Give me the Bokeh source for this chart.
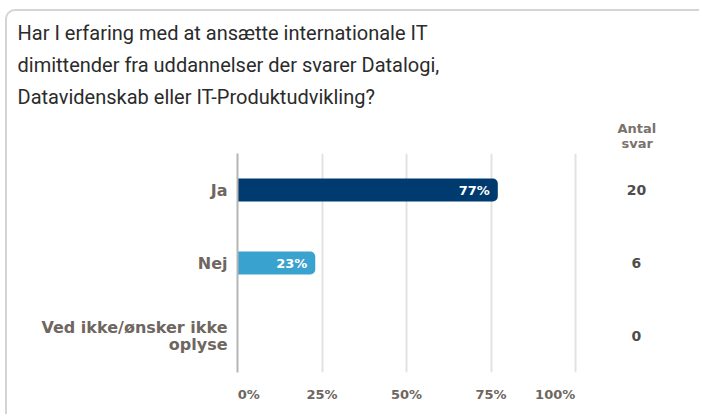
from bokeh.plotting import figure
from bokeh.models import Range1d, FactorRange, FixedTicker, ColumnDataSource, Title
from bokeh.embed import file_html
from bokeh.resources import INLINE
from bokeh.core.properties import value

title_lines = [
    "Har I erfaring med at ansætte internationale IT",
    "dimittender fra uddannelser der svarer Datalogi,",
    "Datavidenskab eller IT-Produktudvikling?",
]
categories = ["Ja", "Nej", "Ved ikke/ønsker ikke\noplyse"]
percent = [77, 23, 0]
counts = [20, 6, 0]
bar_colors = ["#003b6f", "#3aa2cf", "#3aa2cf"]
tick_values = [0, 25, 50, 75, 100]
tick_labels = ["0%", "25%", "50%", "75%", "100%"]
count_header = ["Antal", "svar"]
count_x = 118

AX_FONT = "DejaVu Sans"
LBL_COLOR = "#6e6660"
NB = "\u00a0"

# first tick label left-aligned on the axis, last right-aligned on its gridline
tick_text = {}
for i, (v, t) in enumerate(zip(tick_values, tick_labels)):
    if i == 0:
        t = NB * 5 + t
    elif i == len(tick_values) - 1:
        t = t + NB * 9
    tick_text[v] = t

p = figure(
    width=694, height=405,
    x_range=Range1d(0, 134),
    y_range=FactorRange(factors=list(reversed(categories)), range_padding=0),
    output_backend="svg", toolbar_location=None,
    min_border_left=230, min_border_right=11, min_border_top=142, min_border_bottom=44,
)
p.styles = {"border-left": "2px solid #d4d4d4", "border-top": "2px solid #d4d4d4",
            "border-top-left-radius": "10px", "margin-left": "5px", "margin-top": "9px",
            "overflow": "hidden"}
p.title.text = ""
p.outline_line_color = None
p.background_fill_color = "white"
p.border_fill_color = None

p.xgrid.ticker = FixedTicker(ticks=tick_values)
p.xgrid.grid_line_color = "#e2e2e2"
p.xgrid.grid_line_width = 2
p.ygrid.grid_line_color = None

p.xaxis.ticker = FixedTicker(ticks=tick_values)
p.xaxis.major_label_overrides = tick_text
p.xaxis.axis_line_color = None
p.xaxis.major_tick_line_color = None
p.xaxis.minor_tick_line_color = None
p.xaxis.major_label_standoff = 8
p.xaxis.major_label_text_font = AX_FONT
p.xaxis.major_label_text_font_style = "bold"
p.xaxis.major_label_text_font_size = "13px"
p.xaxis.major_label_text_color = LBL_COLOR

p.yaxis.axis_line_color = "#b5b5b5"
p.yaxis.axis_line_width = 2
p.yaxis.major_tick_line_color = None
p.yaxis.minor_tick_line_color = None
p.yaxis.major_label_standoff = 4
p.yaxis.major_label_text_font = AX_FONT
p.yaxis.major_label_text_font_style = "bold"
p.yaxis.major_label_text_font_size = "16px"
p.yaxis.major_label_text_line_height = 0.86
p.yaxis.major_label_text_color = LBL_COLOR

src = ColumnDataSource(dict(cat=categories, pct=percent, cnt=[str(c) for c in counts],
                            color=bar_colors,
                            lbl=[f"{v}%" if v > 0 else "" for v in percent]))

p.hbar(y="cat", left=0, right="pct", height=0.315, fill_color="color", line_color=None,
       border_radius=(0, 5, 5, 0), source=src)
p.text(x="pct", y="cat", text="lbl", x_offset=-8, text_align="right", text_baseline="middle",
       text_color="white", text_font=value(AX_FONT), text_font_style="bold",
       text_font_size="13px", source=src)
p.text(x=count_x, y="cat", text="cnt", text_align="center", text_baseline="middle",
       text_color="#4d4d4d", text_font=value(AX_FONT), text_font_style="bold",
       text_font_size="14px", source=src)

# stacked titles above the frame (first added = nearest to frame)
header_offsets = {"Antal": 380, "svar": 384}
header_standoff = {"svar": 6, "Antal": -10}
for txt in reversed(count_header):
    p.add_layout(Title(text=txt, align="left", offset=header_offsets[txt],
                       standoff=header_standoff[txt],
                       text_font=AX_FONT, text_font_style="bold", text_font_size="13px",
                       text_color="#7a726c"), "above")
# blank spacer between the column header and the question
p.add_layout(Title(text=NB, align="left", standoff=-5, text_font=AX_FONT,
                   text_font_size="13px", text_color="white"), "above")
for line in reversed(title_lines):
    p.add_layout(Title(text=line, align="left", offset=-220, standoff=5.7,
                       text_font="Roboto", text_font_style="normal", text_font_size="20px",
                       text_color="#2b2b2b"), "above")

open("out.html", "w").write(file_html(p, INLINE))
